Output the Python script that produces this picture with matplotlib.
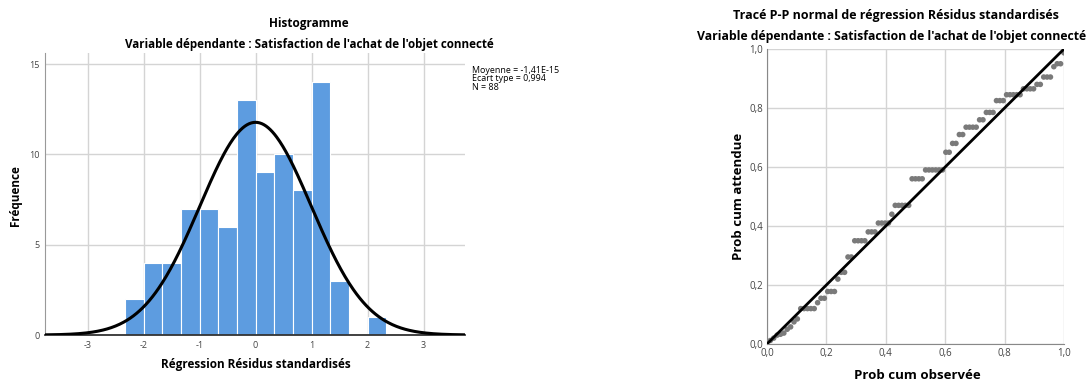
import numpy as np
import matplotlib
matplotlib.use("Agg")
import matplotlib.pyplot as plt

plt.rcParams['font.family'] = ['Open Sans', 'DejaVu Sans']

# histogramme des residus standardises (classes de largeur 1/3)
bornes = np.arange(-7, 7) / 3.0
effectifs = [2, 4, 4, 7, 7, 6, 13, 9, 10, 8, 14, 3, 0, 1]
largeur = 1 / 3.0
moyenne = -1.41e-15
ecart_type = 0.994
n_obs = 88

# trace P-P : probabilites attendues par paliers (valeur, nombre de points)
attendue_niveaux = [0.012, 0.02, 0.03, 0.033, 0.037, 0.05, 0.058, 0.075, 0.085,
                    0.12, 0.14, 0.155, 0.178, 0.22, 0.243, 0.295, 0.35, 0.38,
                    0.41, 0.44, 0.47, 0.56, 0.59, 0.65, 0.68, 0.71, 0.735,
                    0.76, 0.785, 0.825, 0.845, 0.865, 0.88, 0.905, 0.94, 0.95,
                    0.987]
attendue_nombre = [1, 1, 1, 1, 1, 1, 1, 1, 1,
                   5, 1, 2, 3, 1, 2, 2, 4, 3,
                   4, 1, 5, 4, 6, 2, 2, 2, 4,
                   2, 3, 3, 5, 4, 2, 3, 1, 2,
                   1]

hist_xticks = [-3, -2, -1, 0, 1, 2, 3]
hist_xlabels = ['-3', '-2', '-1', '0', '1', '2', '3']
hist_yticks = [0, 5, 10, 15]
pp_ticks = [0.0, 0.2, 0.4, 0.6, 0.8, 1.0]
pp_labels = ['0,0', '0,2', '0,4', '0,6', '0,8', '1,0']

bleu = '#5d9ce0'
grille = '#d4d4d4'
gris_txt = '#444444'

fig = plt.figure(figsize=(10.89, 3.81), dpi=100)

# ---------- histogramme ----------
ax1 = fig.add_axes([0.0413, 0.1207, 0.3857, 0.7402])
ax1.bar(bornes, effectifs, width=largeur, align='edge', color=bleu,
        edgecolor='white', linewidth=0.8, zorder=2)
xs = np.linspace(-3.76, 3.74, 400)
dens = np.exp(-0.5 * ((xs - moyenne) / ecart_type) ** 2) / (ecart_type * np.sqrt(2 * np.pi))
ax1.plot(xs, n_obs * largeur * dens, color='black', lw=2.2, zorder=3)
ax1.set_xlim(-3.76, 3.74)
ax1.set_ylim(0, 15.61)
ax1.set_xticks(hist_xticks)
ax1.set_xticklabels(hist_xlabels)
ax1.set_yticks(hist_yticks)
ax1.grid(True, color=grille, lw=1, zorder=0)
ax1.set_axisbelow(True)
ax1.tick_params(length=0, labelsize=6.5, labelcolor=gris_txt, pad=4)
for s in ['top', 'right']:
    ax1.spines[s].set_visible(False)
ax1.spines['left'].set_color('#999999')
ax1.spines['bottom'].set_color('#333333')
ax1.spines['bottom'].set_linewidth(1.3)

fig.text(0.2837, 0.9396, 'Histogramme', ha='center', va='center',
         fontsize=8.5, fontweight='bold')
fig.text(0.2837, 0.8845, "Variable dépendante : Satisfaction de l'achat de l'objet connecté",
         ha='center', va='center', fontsize=8.4, fontweight='bold')
fig.text(0.0142, 0.488, 'Fréquence', rotation=90, ha='center', va='center',
         fontsize=8.5, fontweight='bold')
fig.text(0.235, 0.042, 'Régression Résidus standardisés', ha='center',
         va='center', fontsize=8.5, fontweight='bold')
fig.text(0.4331, 0.7927, 'Moyenne = -1,41E-15\nEcart type = 0,994\nN = 88',
         ha='left', va='center', fontsize=6.4, linespacing=0.9)

# ---------- trace P-P ----------
attendue = np.repeat(attendue_niveaux, attendue_nombre)
observee = np.arange(1, len(attendue) + 1) / len(attendue)

ax2 = fig.add_axes([0.7043, 0.0971, 0.2727, 0.7743])
ax2.plot([0, 1], [0, 1], color='black', lw=2.0, zorder=3)
ax2.scatter(observee, attendue, s=16, color='#7a7a7a', edgecolors='none', zorder=2)
ax2.set_xlim(0, 1)
ax2.set_ylim(0, 1)
ax2.set_xticks(pp_ticks)
ax2.set_xticklabels(pp_labels)
ax2.set_yticks(pp_ticks)
ax2.set_yticklabels(pp_labels)
ax2.grid(True, color=grille, lw=1, zorder=0)
ax2.set_axisbelow(True)
ax2.tick_params(length=0, labelsize=7, labelcolor=gris_txt, pad=3)
for s in ['top', 'right']:
    ax2.spines[s].set_visible(False)
ax2.spines['left'].set_color('#888888')
ax2.spines['bottom'].set_color('#888888')

fig.text(0.8228, 0.9606, 'Tracé P-P normal de régression Résidus standardisés',
         ha='center', va='center', fontsize=9, fontweight='bold')
fig.text(0.8185, 0.9029, "Variable dépendante : Satisfaction de l'achat de l'objet connecté",
         ha='center', va='center', fontsize=8.8, fontweight='bold')
fig.text(0.6777, 0.4856, 'Prob cum attendue', rotation=90, ha='center', va='center',
         fontsize=9.5, fontweight='bold')
fig.text(0.842, 0.0157, 'Prob cum observée', ha='center', va='center',
         fontsize=9.5, fontweight='bold')

fig.savefig('out.png', dpi=100)
